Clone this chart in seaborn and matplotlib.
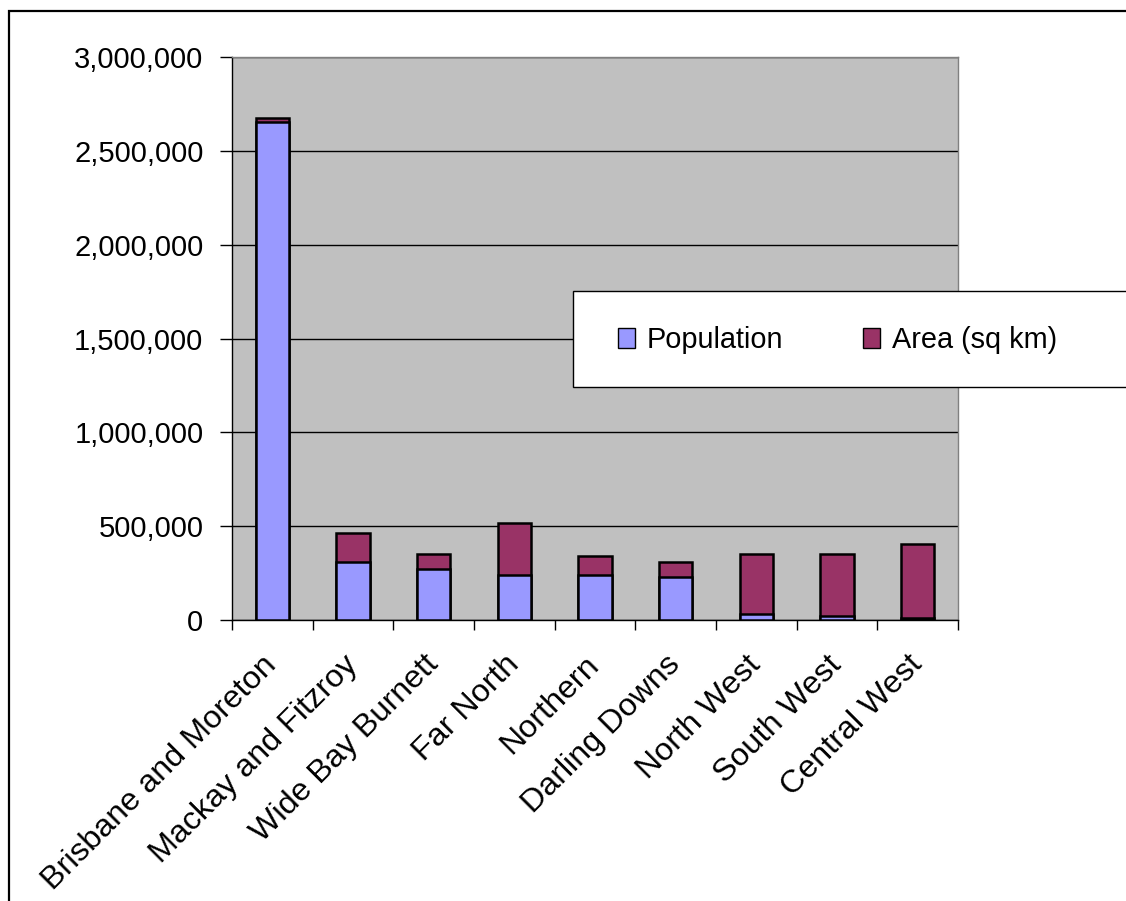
import matplotlib
matplotlib.use("Agg")
import matplotlib.pyplot as plt
import matplotlib.ticker as mticker
from matplotlib.patches import Patch, Rectangle
import numpy as np
import pandas as pd
import seaborn as sns

# Queensland statistical divisions
regions = [
    "Brisbane and Moreton", "Mackay and Fitzroy", "Wide Bay Burnett",
    "Far North", "Northern", "Darling Downs",
    "North West", "South West", "Central West",
]
population = [2653000, 307000, 272000, 240000, 240000, 231000, 30000, 20000, 12000]
area_sq_km = [24000, 155000, 80000, 275000, 99000, 78000, 322000, 332000, 395000]
series_names = ["Population", "Area (sq km)"]
y_ticks = [0, 500000, 1000000, 1500000, 2000000, 2500000, 3000000]

pop_color = "#9999FF"
area_color = "#993366"
plot_bg = "#C0C0C0"

sns.set_style("white")
plt.rcParams["font.family"] = ["Liberation Sans", "DejaVu Sans"]
plt.rcParams["text.color"] = "black"
plt.rcParams["xtick.color"] = "black"
plt.rcParams["ytick.color"] = "black"
plt.rcParams["xtick.labelcolor"] = "black"
plt.rcParams["ytick.labelcolor"] = "black"

df = pd.DataFrame({
    "region": regions,
    "population": population,
    "area": area_sq_km,
})
df["total"] = df["population"] + df["area"]

W, H = 1126, 901
fig = plt.figure(figsize=(W / 100, H / 100), dpi=100)
fig.patch.set_facecolor("white")
ax = fig.add_axes([232 / W, 1 - 620 / H, (958 - 232) / W, (620 - 57) / H])
ax.set_facecolor(plot_bg)

# stacked bars: full height in area colour, population drawn over it
sns.barplot(data=df, x="region", y="total", color=area_color, saturation=1,
            width=0.41, edgecolor="black", linewidth=1.8, errorbar=None, ax=ax,
            zorder=3)
sns.barplot(data=df, x="region", y="population", color=pop_color, saturation=1,
            width=0.41, edgecolor="black", linewidth=1.8, errorbar=None, ax=ax,
            zorder=3)

ax.set_xlim(-0.5, len(regions) - 0.5)
ax.set_ylim(0, 3000000)
ax.set_yticks(y_ticks)
ax.yaxis.set_major_formatter(mticker.FuncFormatter(lambda v, p: f"{int(v):,}"))
ax.yaxis.grid(True, color="black", linewidth=1.0, zorder=1)
ax.set_axisbelow(True)
ax.set_xlabel("")
ax.set_ylabel("")

ax.tick_params(axis="y", which="major", direction="out", length=8.6, width=1,
               color="black", pad=12, labelsize=21, left=True)
ax.set_xticks(np.arange(len(regions)))
ax.set_xticks(np.arange(len(regions) + 1) - 0.5, minor=True)
ax.tick_params(axis="x", which="major", length=0, pad=29, labelsize=23.2)
ax.tick_params(axis="x", which="minor", direction="out", length=7.5, width=1,
               color="black", bottom=True)
ax.set_xticklabels(regions, rotation=45, ha="right", va="center",
                   rotation_mode="anchor")

for side in ("left", "bottom"):
    ax.spines[side].set_color("black")
    ax.spines[side].set_linewidth(1.0)
for side in ("top", "right"):
    ax.spines[side].set_color("#808080")
    ax.spines[side].set_linewidth(1.0)

# outer chart border, running off the right and bottom edges
fig.patches.append(Rectangle((8.5 / W, 1 - 1200 / H), 1400 / W, (1200 - 10.5) / H,
                             transform=fig.transFigure, fill=False,
                             edgecolor="black", linewidth=1.6, zorder=10))

# legend frame and entries
fig.patches.append(Rectangle((573 / W, 1 - 387 / H), 700 / W, 96 / H,
                             transform=fig.transFigure, facecolor="white",
                             edgecolor="black", linewidth=1.0, zorder=5))
handles = [Patch(facecolor=pop_color, edgecolor="black", linewidth=1.0),
           Patch(facecolor=area_color, edgecolor="black", linewidth=1.0)]
leg = fig.legend(handles, series_names, loc="center left",
                 bbox_to_anchor=(618 / W, 1 - 340 / H), ncol=2, frameon=False,
                 fontsize=20.8, handlelength=0.6, handleheight=0.72,
                 handletextpad=0.4, columnspacing=2.75, borderpad=0,
                 borderaxespad=0)
leg.set_zorder(6)

fig.savefig("out.png", dpi=100, facecolor="white")
